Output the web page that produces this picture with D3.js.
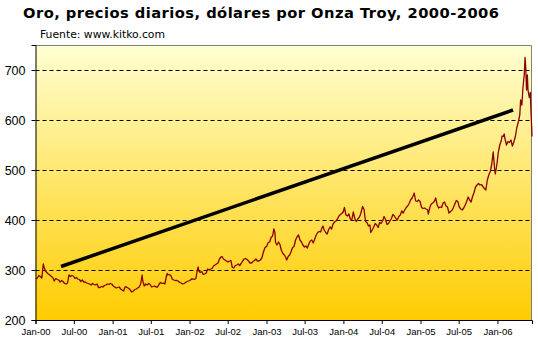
<!DOCTYPE html>
<html><head><meta charset="utf-8">
<script src="https://cdn.jsdelivr.net/npm/d3@7/dist/d3.min.js"></script>
<style>html,body{margin:0;padding:0;background:#fff;}svg{display:block;}</style>
</head><body><svg id="c" width="538" height="344"></svg>
<script>
const titleText = "Oro, precios diarios, dólares por Onza Troy, 2000-2006";
const sourceText = "Fuente: www.kitko.com";
const yTicks = [200, 300, 400, 500, 600, 700];
const xTickDates = ["2000-01-01","2000-07-01","2001-01-01","2001-07-01","2002-01-01","2002-07-01","2003-01-01","2003-07-01","2004-01-01","2004-07-01","2005-01-01","2005-07-01","2006-01-01"];
const xTickLabels = ["Jan-00","Jul-00","Jan-01","Jul-01","Jan-02","Jul-02","Jan-03","Jul-03","Jan-04","Jul-04","Jan-05","Jul-05","Jan-06"];
const trendDates = ["2000-05-01","2006-03-16"];
const trendValues = [307, 620];

const priceDates = [
"2000-01-03","2000-01-10","2000-01-17","2000-01-24","2000-01-31","2000-02-04","2000-02-07","2000-02-10","2000-02-17","2000-02-24",
"2000-03-02","2000-03-09","2000-03-16","2000-03-23","2000-03-30","2000-04-06","2000-04-13","2000-04-20","2000-04-27","2000-05-04",
"2000-05-11","2000-05-18","2000-05-25","2000-06-01","2000-06-06","2000-06-08","2000-06-15","2000-06-22","2000-06-29","2000-07-06",
"2000-07-13","2000-07-20","2000-07-27","2000-08-03","2000-08-10","2000-08-17","2000-08-24","2000-08-31","2000-09-07","2000-09-14",
"2000-09-21","2000-09-28","2000-10-05","2000-10-12","2000-10-19","2000-10-26","2000-11-02","2000-11-09","2000-11-16","2000-11-23",
"2000-11-30","2000-12-07","2000-12-14","2000-12-21","2000-12-28",
"2001-01-04","2001-01-11","2001-01-18","2001-01-25","2001-02-01","2001-02-08","2001-02-15","2001-02-22","2001-03-01","2001-03-08",
"2001-03-15","2001-03-22","2001-03-29","2001-04-02","2001-04-09","2001-04-16","2001-04-23","2001-04-30","2001-05-07","2001-05-14",
"2001-05-21","2001-05-24","2001-05-31","2001-06-07","2001-06-14","2001-06-21","2001-06-28","2001-07-05","2001-07-12","2001-07-19",
"2001-07-26","2001-08-02","2001-08-09","2001-08-16","2001-08-23","2001-08-30","2001-09-06","2001-09-13","2001-09-17","2001-09-20",
"2001-09-27","2001-10-04","2001-10-11","2001-10-18","2001-10-25","2001-11-01","2001-11-08","2001-11-15","2001-11-22","2001-11-29",
"2001-12-06","2001-12-13","2001-12-20","2001-12-27",
"2002-01-03","2002-01-10","2002-01-17","2002-01-24","2002-01-31","2002-02-07","2002-02-11","2002-02-14","2002-02-21","2002-02-28",
"2002-03-07","2002-03-14","2002-03-21","2002-03-28","2002-04-04","2002-04-11","2002-04-18","2002-04-25","2002-05-02","2002-05-09",
"2002-05-16","2002-05-23","2002-05-30","2002-06-04","2002-06-11","2002-06-18","2002-06-25","2002-07-02","2002-07-09","2002-07-16",
"2002-07-23","2002-07-30","2002-08-06","2002-08-13","2002-08-20","2002-08-27","2002-09-03","2002-09-10","2002-09-17","2002-09-24",
"2002-10-01","2002-10-08","2002-10-15","2002-10-22","2002-10-29","2002-11-05","2002-11-12","2002-11-19","2002-11-26","2002-12-03",
"2002-12-10","2002-12-17","2002-12-24","2002-12-31",
"2003-01-02","2003-01-09","2003-01-16","2003-01-23","2003-01-30","2003-02-05","2003-02-10","2003-02-13","2003-02-20","2003-02-27",
"2003-03-06","2003-03-13","2003-03-20","2003-03-27","2003-04-03","2003-04-07","2003-04-14","2003-04-21","2003-04-28","2003-05-05",
"2003-05-12","2003-05-19","2003-05-26","2003-06-02","2003-06-09","2003-06-16","2003-06-23","2003-06-30","2003-07-07","2003-07-14",
"2003-07-21","2003-07-28","2003-08-04","2003-08-11","2003-08-18","2003-08-25","2003-09-01","2003-09-08","2003-09-15","2003-09-22",
"2003-09-26","2003-10-02","2003-10-09","2003-10-16","2003-10-23","2003-10-30","2003-11-06","2003-11-13","2003-11-20","2003-11-27",
"2003-12-04","2003-12-11","2003-12-18","2003-12-24","2003-12-31",
"2004-01-06","2004-01-13","2004-01-20","2004-01-27","2004-02-03","2004-02-10","2004-02-17","2004-02-24","2004-03-02","2004-03-09",
"2004-03-16","2004-03-23","2004-04-01","2004-04-08","2004-04-15","2004-04-22","2004-04-29","2004-05-06","2004-05-10","2004-05-17",
"2004-05-24","2004-05-31","2004-06-07","2004-06-14","2004-06-21","2004-06-28","2004-07-05","2004-07-12","2004-07-19","2004-07-26",
"2004-08-02","2004-08-09","2004-08-16","2004-08-23","2004-08-30","2004-09-06","2004-09-13","2004-09-20","2004-09-27","2004-10-04",
"2004-10-11","2004-10-18","2004-10-25","2004-11-01","2004-11-08","2004-11-15","2004-11-22","2004-11-29","2004-12-02","2004-12-09",
"2004-12-16","2004-12-23","2004-12-30",
"2005-01-06","2005-01-13","2005-01-20","2005-01-27","2005-02-03","2005-02-07","2005-02-14","2005-02-21","2005-02-28","2005-03-07",
"2005-03-14","2005-03-21","2005-03-28","2005-04-04","2005-04-11","2005-04-18","2005-04-25","2005-05-02","2005-05-09","2005-05-16",
"2005-05-23","2005-05-30","2005-06-06","2005-06-13","2005-06-20","2005-06-27","2005-07-04","2005-07-11","2005-07-18","2005-07-25",
"2005-08-01","2005-08-08","2005-08-15","2005-08-22","2005-08-29","2005-09-05","2005-09-12","2005-09-19","2005-09-26","2005-10-03",
"2005-10-10","2005-10-17","2005-10-24","2005-10-31","2005-11-07","2005-11-14","2005-11-21","2005-11-28","2005-12-05","2005-12-12",
"2005-12-19","2005-12-22","2005-12-30",
"2006-01-05","2006-01-12","2006-01-19","2006-01-23","2006-01-30","2006-02-02","2006-02-06","2006-02-13","2006-02-20","2006-02-27",
"2006-03-06","2006-03-13","2006-03-20","2006-03-27","2006-04-03","2006-04-10","2006-04-17","2006-04-21","2006-04-27","2006-05-02",
"2006-05-08","2006-05-12","2006-05-15","2006-05-19","2006-05-23","2006-05-26","2006-06-01","2006-06-06","2006-06-09","2006-06-13",
"2006-06-14"
];
const priceValues = [
282,284,289,287,284,300,312,307,298,295,
292,290,287,285,278,283,281,280,276,279,
277,273,272,274,286,290,287,289,288,283,
285,282,281,277,280,276,276,274,273,272,
270,273,271,270,272,265,265,267,266,269,
270,272,271,273,272,
268,266,264,265,266,262,260,258,266,266,
264,262,258,256,258,261,262,264,266,272,
290,278,268,272,270,273,271,266,267,268,
266,266,271,275,273,274,272,287,293,290,
291,289,282,280,279,279,278,275,274,272,
273,275,277,278,
279,282,282,281,283,300,306,298,295,297,
291,292,294,302,300,302,303,308,310,312,
314,322,326,327,322,320,318,316,318,319,
305,304,309,310,312,309,313,318,322,323,
321,318,314,314,317,319,322,318,318,320,
324,335,344,347,
347,355,356,365,368,382,375,355,350,356,
351,339,333,330,325,320,327,330,337,345,
347,360,366,370,360,356,350,346,348,344,
352,358,360,354,362,370,375,377,376,385,
388,380,375,372,381,386,382,392,396,398,
402,408,411,413,416,
425,410,408,412,402,400,416,403,397,402,
405,412,427,421,397,395,388,390,375,380,
386,393,390,385,395,393,398,407,401,391,
393,398,403,411,408,403,400,407,410,418,
414,420,425,428,433,440,444,450,454,438,
437,440,437,
425,423,424,422,421,412,425,432,434,437,
444,430,424,426,425,434,436,428,426,414,
417,419,425,432,439,437,426,422,420,424,
430,437,446,440,436,447,455,466,470,473,
470,471,467,463,460,480,490,497,512,536,
500,492,513,
535,550,558,568,567,572,562,550,557,555,
560,548,556,567,585,596,610,640,630,664,
690,725,708,660,690,660,645,655,620,580,
567
];

const parse = d3.timeParse("%Y-%m-%d");
const svg = d3.select("#c");
const L = 35.5, R = 532, T = 45, B = 320;

const x = d3.scaleTime().domain([parse("2000-01-01"), parse("2006-06-14")]).range([L, R]);
const y = d3.scaleLinear().domain([200, 750]).range([B, T]);

const defs = svg.append("defs");
const grad = defs.append("linearGradient").attr("id","bg").attr("x1",0).attr("y1",0).attr("x2",0).attr("y2",1);
grad.append("stop").attr("offset","0%").attr("stop-color","#FFFFD2");
grad.append("stop").attr("offset","100%").attr("stop-color","#FFCC00");

svg.append("rect").attr("x",L).attr("y",T).attr("width",R-L).attr("height",B-T).attr("fill","url(#bg)");

// gridlines
svg.append("g").selectAll("line").data(yTicks.filter(d => d > 200)).join("line")
  .attr("x1", L).attr("x2", R).attr("y1", d => Math.round(y(d)) + 0.5).attr("y2", d => Math.round(y(d)) + 0.5)
  .attr("stroke","#000").attr("stroke-width",1).attr("stroke-dasharray","4,3");

// border top/right
svg.append("path").attr("d", `M${L},${T+0.5}H${R-0.5}V${B}`).attr("fill","none").attr("stroke","#808080").attr("stroke-width",1);

// trend line
const pts = trendDates.map((d,i) => [x(parse(d)), y(trendValues[i])]);
svg.append("line").attr("x1",pts[0][0]).attr("y1",pts[0][1]).attr("x2",pts[1][0]).attr("y2",pts[1][1])
  .attr("stroke","#000").attr("stroke-width",3.5);

// price line
const data = priceDates.map((d,i) => ({d: parse(d), v: priceValues[i]}));
const line = d3.line().x(p => x(p.d)).y(p => y(p.v));
svg.append("path").datum(data).attr("d", line).attr("fill","none").attr("stroke","#8B0000").attr("stroke-width",1.3).attr("stroke-linejoin","round");

// axes
const yAxis = d3.axisLeft(y).tickValues(yTicks).tickSize(4).tickPadding(6);
const gy = svg.append("g").attr("transform", `translate(${L},0)`).call(yAxis);
gy.select(".domain").attr("stroke","#000");
gy.selectAll("text").attr("font-family","'Liberation Sans', Arial, sans-serif").attr("font-size","12.5px").attr("fill","#000");

const xAxis = d3.axisBottom(x).tickValues(xTickDates.map(parse)).tickFormat((d,i) => xTickLabels[i]).tickSize(4).tickPadding(4);
const gx = svg.append("g").attr("transform", `translate(0,${B})`).call(xAxis);
gx.select(".domain").attr("stroke","#000");
gx.selectAll("text").attr("font-family","'Liberation Sans', Arial, sans-serif").attr("font-size","9.5px").attr("fill","#000");

// titles
svg.append("text").attr("x", 23).attr("y", 18)
  .attr("font-family","'DejaVu Sans', Verdana, sans-serif").attr("font-weight","bold").attr("font-size","14.7px")
  .attr("textLength", 476).attr("lengthAdjust","spacing").text(titleText);
svg.append("text").attr("x", 40).attr("y", 38)
  .attr("font-family","'DejaVu Sans', Verdana, sans-serif").attr("font-size","10.8px")
  .attr("textLength", 125).attr("lengthAdjust","spacing").text(sourceText);
</script></body></html>
